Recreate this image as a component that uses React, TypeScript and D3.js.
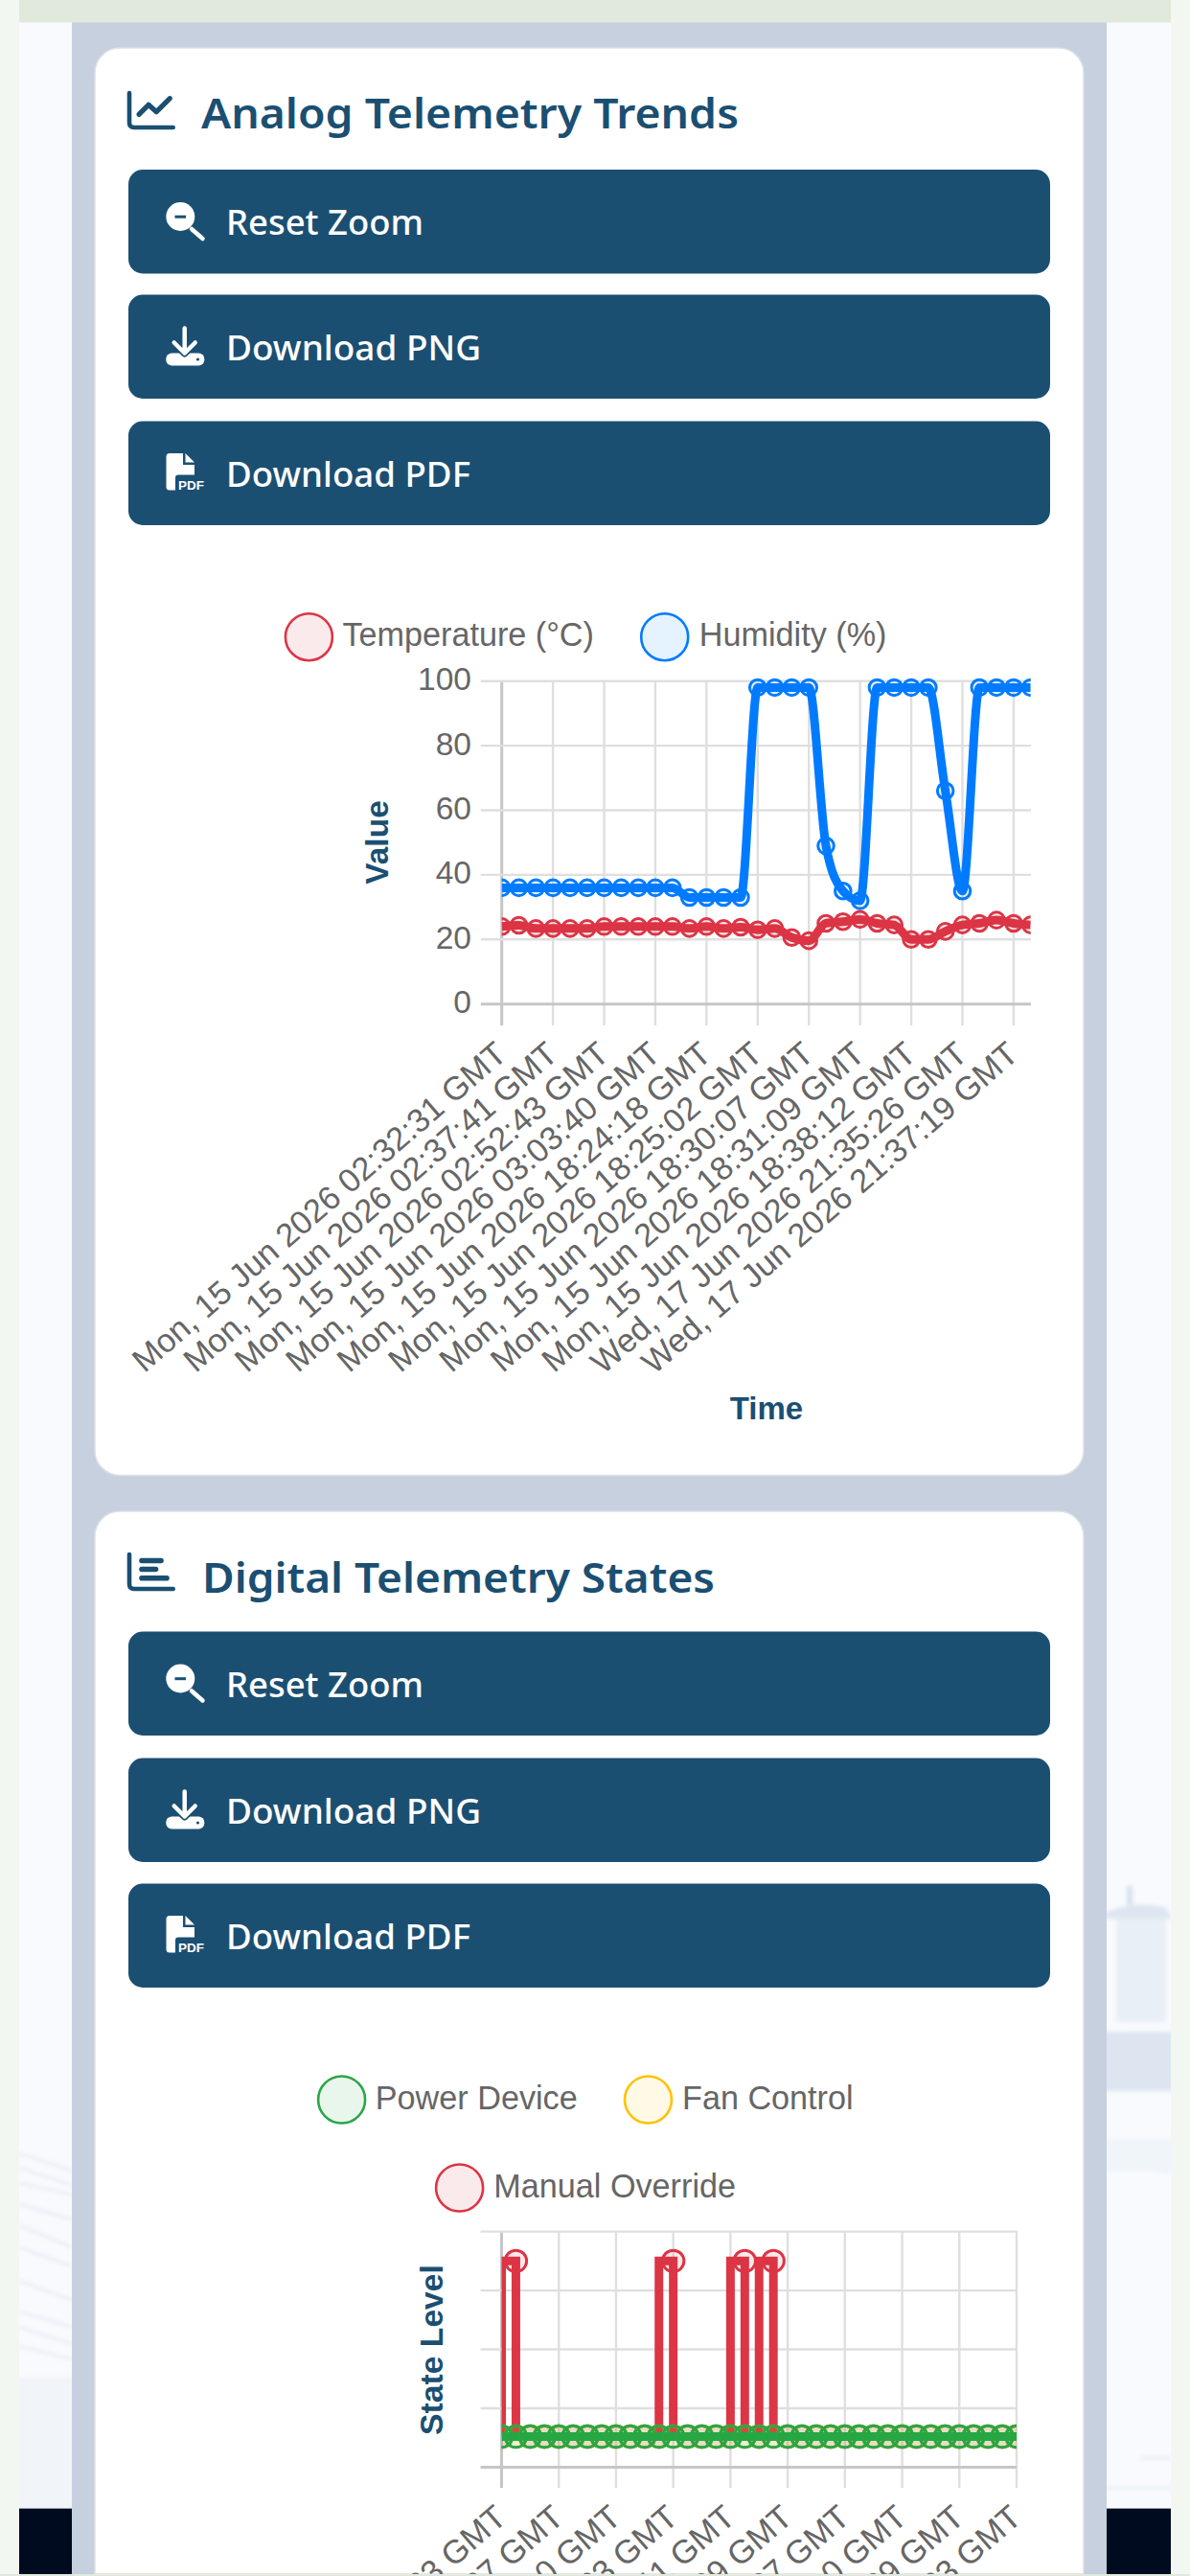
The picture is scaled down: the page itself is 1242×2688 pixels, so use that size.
import React from "react";
import * as d3 from "d3";

// ---------- data ----------
const analogLabels = [
  "Mon, 15 Jun 2026 02:32:31 GMT",
  "Mon, 15 Jun 2026 02:37:41 GMT",
  "Mon, 15 Jun 2026 02:52:43 GMT",
  "Mon, 15 Jun 2026 03:03:40 GMT",
  "Mon, 15 Jun 2026 18:24:18 GMT",
  "Mon, 15 Jun 2026 18:25:02 GMT",
  "Mon, 15 Jun 2026 18:30:07 GMT",
  "Mon, 15 Jun 2026 18:31:09 GMT",
  "Mon, 15 Jun 2026 18:38:12 GMT",
  "Wed, 17 Jun 2026 21:35:26 GMT",
  "Wed, 17 Jun 2026 21:37:19 GMT",
];
const temperature = [
  24, 24.4, 23.4, 23.4, 23.4, 23.4, 24, 24, 24, 24, 24, 23.4, 24, 23.4, 23.8, 23, 23.4, 20.6, 19.6, 25, 25.5, 26.2, 25,
  24.5, 20, 20, 22.5, 24.5, 25, 26, 25, 24.5,
];
const humidity = [
  36, 36, 36, 36, 36, 36, 36, 36, 36, 36, 36, 33, 33, 33, 33, 98, 98, 98, 98, 49, 35, 32, 98, 98, 98, 98, 66, 35, 98,
  98, 98, 98,
];
const analogYTicks = [0, 20, 40, 60, 80, 100];

const digitalLabels = [
  "Mon, 15 Jun 2026 02:32:23 GMT",
  "Mon, 15 Jun 2026 02:37:27 GMT",
  "Mon, 15 Jun 2026 02:52:10 GMT",
  "Mon, 15 Jun 2026 03:03:33 GMT",
  "Mon, 15 Jun 2026 18:24:11 GMT",
  "Mon, 15 Jun 2026 18:25:09 GMT",
  "Mon, 15 Jun 2026 18:30:07 GMT",
  "Mon, 15 Jun 2026 18:31:10 GMT",
  "Mon, 15 Jun 2026 18:38:09 GMT",
  "Wed, 17 Jun 2026 21:35:23 GMT",
];
const powerDevice = [
  0.52, 0.52, 0.52, 0.52, 0.52, 0.52, 0.52, 0.52, 0.52, 0.52, 0.52, 0.52, 0.52, 0.52, 0.52, 0.52, 0.52, 0.52, 0.52,
  0.52, 0.52, 0.52, 0.52, 0.52, 0.52, 0.52, 0.52, 0.52, 0.52, 0.52, 0.52, 0.52, 0.52, 0.52, 0.52, 0.52, 0.52,
];
const fanControl = [
  0.52, 0.52, 0.52, 0.52, 0.52, 0.52, 0.52, 0.52, 0.52, 0.52, 0.52, 0.52, 0.52, 0.52, 0.52, 0.52, 0.52, 0.52, 0.52,
  0.52, 0.52, 0.52, 0.52, 0.52, 0.52, 0.52, 0.52, 0.52, 0.52, 0.52, 0.52, 0.52, 0.52, 0.52, 0.52, 0.52, 0.52,
];
const manualOverride = [
  0.52, 3.5, 0.52, 0.52, 0.52, 0.52, 0.52, 0.52, 0.52, 0.52, 0.52, 0.52, 3.5, 0.52, 0.52, 0.52, 0.52, 3.5, 0.52, 3.5,
  0.52, 0.52, 0.52, 0.52, 0.52, 0.52, 0.52, 0.52, 0.52, 0.52, 0.52, 0.52, 0.52, 0.52, 0.52, 0.52, 0.52,
];
const digitalYTicks = [0, 1, 2, 3, 4];

// ---------- style ----------
const NAVY = "#1b4f72";
const RED = "#dc3545";
const BLUE = "#007bff";
const GREEN = "#28a745";
const YELLOW = "#ffc107";
const GRID = "#dfdfdf";
const AXIS = "#c6c6c6";
const TICK = "#666666";
const SANS = "'Liberation Sans', Arial, sans-serif";
const UI = "'Noto Sans', 'Open Sans', sans-serif";
const TICK_ANGLE = -41;

const sideLines: [number, number, number, number][] = [
  [20, 2247, 75, 2265],
  [20, 2262, 75, 2280],
  [20, 2278, 75, 2290],
  [20, 2300, 75, 2316],
  [20, 2322, 75, 2345],
  [20, 2345, 75, 2365],
  [20, 2380, 75, 2400],
  [20, 2412, 75, 2428],
  [20, 2428, 75, 2446],
  [20, 2448, 75, 2462],
  [1155, 2235, 1222, 2235],
  [1155, 2247, 1222, 2250],
  [1155, 2262, 1222, 2266],
  [1190, 2565, 1222, 2565],
  [1155, 2596, 1222, 2596],
];

function Button({ y, label, width, icon }: { y: number; label: string; width: number; icon: string }) {
  const top = y;
  return (
    <g>
      <rect x={134} y={top} width={962} height={108.5} rx={15} fill={NAVY} />
      <text
        x={236}
        y={top + 68}
        fontFamily={UI}
        fontWeight={500}
        fontSize={36}
        fill="#fff"
        textLength={width}
        lengthAdjust="spacingAndGlyphs"
      >
        {label}
      </text>
      {icon === "zoom" && (
        <g>
          <circle cx={188.3} cy={top + 49} r={15} fill="#fff" />
          <rect x={182.5} y={top + 47.7} width={11.5} height={3} fill={NAVY} />
          <line
            x1={200}
            y1={top + 62}
            x2={211.5}
            y2={top + 72}
            stroke="#fff"
            strokeWidth={4.5}
            strokeLinecap="round"
          />
        </g>
      )}
      {icon === "png" && (
        <g>
          <rect x={173.3} y={top + 61} width={40} height={13} rx={6} fill="#fff" />
          <path
            d={`M192.7 ${top + 35}V${top + 61}M181.7 ${top + 50}L192.7 ${top + 61}L203.7 ${top + 50}`}
            fill="none"
            stroke={NAVY}
            strokeWidth={8}
            strokeLinejoin="round"
          />
          <path
            d={`M192.7 ${top + 35}V${top + 61}M181.7 ${top + 50}L192.7 ${top + 61}L203.7 ${top + 50}`}
            fill="none"
            stroke="#fff"
            strokeWidth={4.5}
            strokeLinecap="round"
            strokeLinejoin="round"
          />
          <circle cx={206.5} cy={top + 67.5} r={1.6} fill={NAVY} />
        </g>
      )}
      {icon === "pdf" && (
        <g>
          <path
            d={`M177 ${top + 33.5}H191V${top + 45.5}H203V${top + 72}H177Q173.5 ${top + 72} 173.5 ${top + 68.5}V${top + 37}Q173.5 ${top + 33.5} 177 ${top + 33.5}Z`}
            fill="#fff"
          />
          <path d={`M193.5 ${top + 33.5}L203 ${top + 43}H193.5Z`} fill="#fff" />
          <rect x={183} y={top + 56} width={32} height={19} rx={3} fill={NAVY} />
          <text x={186} y={top + 71} fontFamily={SANS} fontWeight={700} fontSize={13.5} fill="#fff">
            PDF
          </text>
        </g>
      )}
    </g>
  );
}

function XTickLabels({
  ticks,
  labels,
  x,
  y,
}: {
  ticks: number[];
  labels: string[];
  x: d3.ScaleLinear<number, number>;
  y: number;
}) {
  return (
    <g>
      {ticks.map((t, i) => (
        <text
          key={t}
          transform={`translate(${x(t) + 7},${y}) rotate(${TICK_ANGLE})`}
          textAnchor="end"
          fontFamily={SANS}
          fontSize={34.3}
          fill={TICK}
        >
          {labels[i]}
        </text>
      ))}
    </g>
  );
}

function Legend({ cx, cy, color, fill, label, tx }: any) {
  return (
    <g>
      <circle cx={cx} cy={cy} r={24.5} fill={fill} stroke={color} strokeWidth={2.6} />
      <text x={tx} y={cy + 9.5} fontFamily={SANS} fontSize={34.2} fill={TICK}>
        {label}
      </text>
    </g>
  );
}

function AnalogChart() {
  const x = d3.scaleLinear().domain([0, temperature.length - 1]).range([523.7, 1075.7]);
  const y = d3.scaleLinear().domain([0, 100]).range([1047.7, 710.7]);
  const line = d3
    .line<number>()
    .x((_, i) => x(i))
    .y((d) => y(d))
    .curve(d3.curveMonotoneX);
  const xTicks = d3.range(0, temperature.length, 3);
  return (
    <g>
      <defs>
        <clipPath id="clipA">
          <rect x={523.7} y={700} width={552} height={360} />
        </clipPath>
      </defs>
      <Legend cx={322.4} cy={664.7} color={RED} fill="rgba(220,53,69,0.1)" label="Temperature (°C)" tx={357.4} />
      <Legend cx={693.7} cy={664.7} color={BLUE} fill="rgba(0,123,255,0.1)" label="Humidity (%)" tx={729.8} />
      {xTicks.map((t) => (
        <line key={t} x1={x(t)} x2={x(t)} y1={710} y2={1070} stroke={t === 0 ? AXIS : GRID} strokeWidth={t === 0 ? 3 : 2.4} />
      ))}
      {analogYTicks.map((t) => (
        <g key={t}>
          <line x1={501.8} x2={1076} y1={y(t)} y2={y(t)} stroke={t === 0 ? AXIS : GRID} strokeWidth={t === 0 ? 3 : 2.4} />
          <text x={492} y={y(t) + 9.5} textAnchor="end" fontFamily={SANS} fontSize={33.5} fill={TICK}>
            {t}
          </text>
        </g>
      ))}
      <g clipPath="url(#clipA)">
        {[
          { v: humidity, c: BLUE, f: "rgba(0,123,255,0.1)" },
          { v: temperature, c: RED, f: "rgba(220,53,69,0.1)" },
        ].map((s) => (
          <g key={s.c}>
            <path d={line(s.v) || ""} fill="none" stroke={s.c} strokeWidth={9} />
            {s.v.map((d, i) => (
              <circle key={i} cx={x(i)} cy={y(d)} r={8.3} fill={s.f} stroke={s.c} strokeWidth={3} />
            ))}
          </g>
        ))}
      </g>
      <text
        transform="translate(404.5,879) rotate(-90)"
        textAnchor="middle"
        fontFamily={SANS}
        fontWeight={700}
        fontSize={33.5}
        fill={NAVY}
      >
        Value
      </text>
      <XTickLabels ticks={xTicks} labels={analogLabels} x={x} y={1103} />
      <text x={800} y={1480.7} textAnchor="middle" fontFamily={SANS} fontWeight={700} fontSize={33} fill={NAVY}>
        Time
      </text>
    </g>
  );
}

function DigitalChart() {
  const x = d3.scaleLinear().domain([0, powerDevice.length - 1]).range([523.5, 1061]);
  const y = d3.scaleLinear().domain([0, 4]).range([2574.5, 2328.6]);
  const stepped = d3
    .line<number>()
    .x((_, i) => x(i))
    .y((d) => y(d))
    .curve(d3.curveStepBefore);
  const xTicks = d3.range(0, powerDevice.length, 4);
  const series = [
    { v: manualOverride, c: RED, f: "rgba(220,53,69,0.1)" },
    { v: fanControl, c: YELLOW, f: "rgba(255,193,7,0.1)" },
    { v: powerDevice, c: GREEN, f: "rgba(40,167,69,0.1)" },
  ];
  return (
    <g>
      <defs>
        <clipPath id="clipD">
          <rect x={523.5} y={2320} width={537.5} height={262} />
        </clipPath>
      </defs>
      <Legend cx={356.6} cy={2191} color={GREEN} fill="rgba(40,167,69,0.1)" label="Power Device" tx={391.8} />
      <Legend cx={676.5} cy={2191} color={YELLOW} fill="rgba(255,193,7,0.1)" label="Fan Control" tx={712} />
      <Legend cx={479.6} cy={2283} color={RED} fill="rgba(220,53,69,0.1)" label="Manual Override" tx={515.3} />
      {xTicks.map((t) => (
        <line key={t} x1={x(t)} x2={x(t)} y1={2328} y2={2596} stroke={t === 0 ? AXIS : GRID} strokeWidth={t === 0 ? 3 : 2.4} />
      ))}
      {digitalYTicks.map((t) => (
        <line key={t} x1={501.5} x2={1061} y1={y(t)} y2={y(t)} stroke={t === 0 ? AXIS : GRID} strokeWidth={t === 0 ? 3 : 2.4} />
      ))}
      <g clipPath="url(#clipD)">
        {series.map((s) => (
          <g key={s.c}>
            <path d={stepped(s.v) || ""} fill="none" stroke={s.c} strokeWidth={9} />
            {s.v.map((d, i) => (
              <circle key={i} cx={x(i)} cy={y(d)} r={11.2} fill={s.f} stroke={s.c} strokeWidth={3} />
            ))}
          </g>
        ))}
      </g>
      <text
        transform="translate(462,2452) rotate(-90)"
        textAnchor="middle"
        fontFamily={SANS}
        fontWeight={700}
        fontSize={33.7}
        fill={NAVY}
      >
        State Level
      </text>
      <XTickLabels ticks={xTicks} labels={digitalLabels} x={x} y={2630} />
    </g>
  );
}

export default function App() {
  return (
    <svg
      width={1242}
      height={2688}
      viewBox="0 0 1242 2688"
      style={{ position: "absolute", left: 0, top: 0, display: "block" }}
    >
      <defs>
        <filter id="soft" x="-5%" y="-5%" width="110%" height="110%">
          <feGaussianBlur stdDeviation="2" />
        </filter>
        <clipPath id="sides">
          <rect x={20} y={0} width={55} height={2688} />
          <rect x={1155} y={0} width={67} height={2688} />
        </clipPath>
      </defs>
      <rect width={1242} height={2688} fill="#f2f7f2" />
      <rect x={20} y={0} width={1202} height={2688} fill="#f9fafd" />
      {/* faint backdrop picture */}
      <g clipPath="url(#sides)">
        <g filter="url(#soft)">
          <g stroke="#e3ebf4" strokeWidth={2.5} fill="none">
            {sideLines.map((l, i) => (
              <line key={i} x1={l[0]} y1={l[1]} x2={l[2]} y2={l[3]} />
            ))}
          </g>
          <rect x={0} y={2480} width={90} height={140} fill="#f1f4f9" />
          <rect x={1165} y={2000} width={52} height={110} fill="#e9eff6" />
          <path d="M1150 1998Q1180 1982 1216 1990L1224 2002H1150Z" fill="#dde6f0" />
          <rect x={1176} y={1968} width={6} height={20} fill="#d6e1ed" />
          <rect x={1150} y={2120} width={80} height={62} fill="#dde6f0" />
          <rect x={1150} y={2232} width={80} height={34} fill="#f0f5fa" />
        </g>
      </g>
      <rect x={20} y={2617.6} width={1202} height={68.4} fill="#010b20" />
      <rect x={75} y={0} width={1080} height={2688} fill="#c6d0df" />
      <rect x={20} y={0} width={1202} height={23.5} fill="#e1e9dc" />

      {/* cards */}
      <rect x={99} y={50} width={1032} height={1489.5} rx={26} fill="#fff" stroke="#dde0e6" strokeWidth={1.5} />
      <path
        d="M99 2686V1603a26 26 0 0 1 26 -26H1105a26 26 0 0 1 26 26V2686Z"
        fill="#fff"
        stroke="#dde0e6"
        strokeWidth={1.5}
      />

      {/* first card header */}
      <path d="M135 97V128Q135 133 140 133H180.7" fill="none" stroke={NAVY} strokeWidth={4.6} strokeLinecap="round" />
      <path
        d="M145 119.3L155 109.3L163.3 116.7L177.3 102.7"
        fill="none"
        stroke={NAVY}
        strokeWidth={5.2}
        strokeLinecap="round"
        strokeLinejoin="round"
      />
      <text
        x={210}
        y={134}
        fontFamily={UI}
        fontWeight={600}
        fontSize={43}
        fill={NAVY}
        textLength={561}
        lengthAdjust="spacingAndGlyphs"
      >
        Analog Telemetry Trends
      </text>
      <Button y={177} label="Reset Zoom" width={206} icon="zoom" />
      <Button y={307.5} label="Download PNG" width={266} icon="png" />
      <Button y={439.5} label="Download PDF" width={255} icon="pdf" />
      <AnalogChart />

      {/* second card header */}
      <path d="M135 1622V1653Q135 1658 140 1658H180.7" fill="none" stroke={NAVY} strokeWidth={4.6} strokeLinecap="round" />
      <g stroke={NAVY} strokeWidth={5.6} strokeLinecap="round">
        <line x1={148} x2={168} y1={1628.5} y2={1628.5} />
        <line x1={148} x2={162.5} y1={1637.5} y2={1637.5} />
        <line x1={148} x2={174} y1={1646.7} y2={1646.7} />
      </g>
      <text
        x={211}
        y={1662}
        fontFamily={UI}
        fontWeight={600}
        fontSize={43}
        fill={NAVY}
        textLength={535}
        lengthAdjust="spacingAndGlyphs"
      >
        Digital Telemetry States
      </text>
      <Button y={1702.5} label="Reset Zoom" width={206} icon="zoom" />
      <Button y={1834.5} label="Download PNG" width={266} icon="png" />
      <Button y={1965.5} label="Download PDF" width={255} icon="pdf" />
      <DigitalChart />

      {/* page edge covers the clipped tick labels */}
      <rect x={0} y={2686} width={1242} height={2} fill="#e1e9dc" />
    </svg>
  );
}
